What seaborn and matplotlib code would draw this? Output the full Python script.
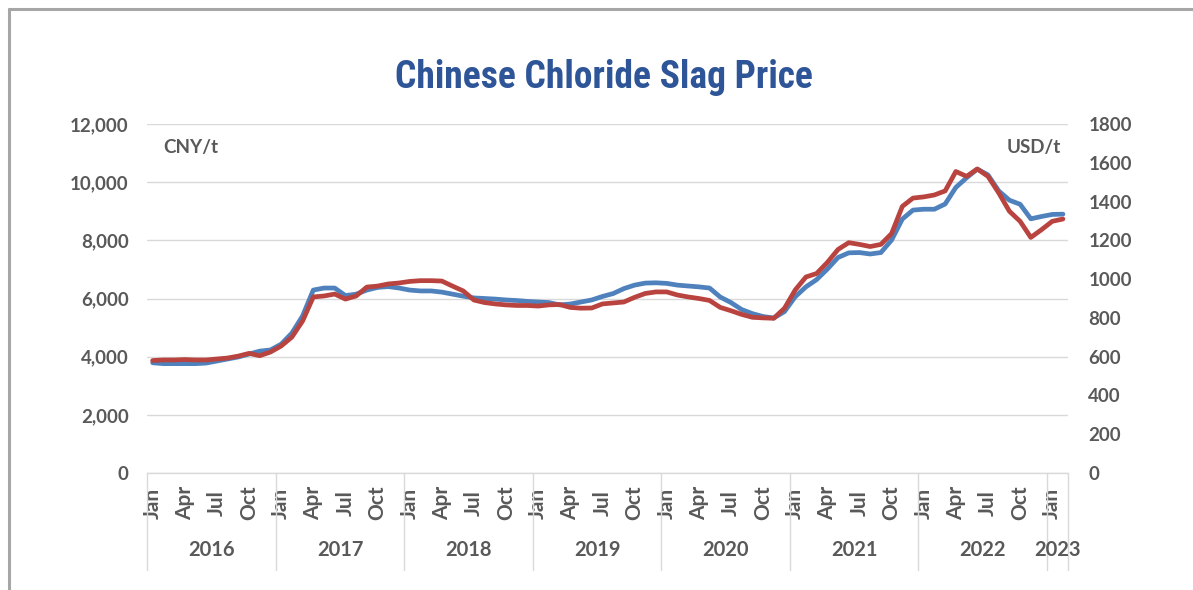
import numpy as np
import pandas as pd
import matplotlib
matplotlib.use("Agg")
import matplotlib.pyplot as plt
import seaborn as sns
from matplotlib.lines import Line2D
from matplotlib import font_manager as fm

# ---------------- data ----------------
years = ["2016", "2017", "2018", "2019", "2020", "2021", "2022", "2023"]
month_names = ["Jan", "Feb", "Mar", "Apr", "May", "Jun",
               "Jul", "Aug", "Sep", "Oct", "Nov", "Dec"]
shown_months = ["Jan", "Apr", "Jul", "Oct"]

# Chinese chloride slag price, CNY/t (left axis), Jan 2016 - Feb 2023
cny_t = [3790, 3760, 3760, 3760, 3760, 3780, 3850, 3920, 3990, 4090, 4190, 4230,
         4430, 4810, 5400, 6290, 6360, 6360, 6100, 6150, 6290, 6380, 6410, 6360,
         6290, 6260, 6260, 6220, 6150, 6080, 6020, 6000, 5980, 5950, 5930, 5900,
         5880, 5860, 5780, 5810, 5880, 5950, 6070, 6170, 6340, 6460, 6530, 6540,
         6520, 6460, 6430, 6400, 6360, 6050, 5860, 5620, 5480, 5380, 5330, 5550,
         6060, 6400, 6650, 7010, 7410, 7570, 7580, 7530, 7580, 8010, 8730, 9040,
         9070, 9070, 9250, 9820, 10150, 10450, 10250, 9700, 9380, 9240, 8740, 8820,
         8890, 8900]

# Chinese chloride slag price, USD/t (right axis)
usd_t = [580, 583, 583, 585, 583, 583, 588, 593, 603, 617, 605, 624,
         655, 701, 784, 908, 913, 923, 897, 913, 959, 964, 975, 980,
         988, 992, 992, 990, 964, 939, 892, 879, 872, 867, 864, 864,
         861, 867, 869, 854, 850, 851, 872, 877, 882, 906, 926, 934,
         934, 918, 908, 900, 890, 854, 837, 818, 803, 800, 798, 850,
         944, 1011, 1029, 1086, 1153, 1188, 1179, 1168, 1179, 1235, 1375, 1418,
         1424, 1434, 1455, 1555, 1530, 1568, 1530, 1445, 1350, 1298, 1215, 1255,
         1298, 1310]

cny_ticks = [0, 2000, 4000, 6000, 8000, 10000, 12000]
usd_ticks = [0, 200, 400, 600, 800, 1000, 1200, 1400, 1600, 1800]

n = len(cny_t)
df = pd.DataFrame({
    "idx": np.arange(n),
    "month": [month_names[i % 12] for i in range(n)],
    "cny": cny_t,
    "usd": usd_t,
})

# ---------------- style ----------------
sns.set_theme(style="white")
plt.rcParams["font.family"] = ["Lato", "DejaVu Sans"]

# find a condensed / narrow font for the title, if any is installed
title_font = None
title_stretch = "normal"
cands = []
for f in fm.fontManager.ttflist:
    nm = f.name
    low = nm.lower()
    if ("condensed" in low or "narrow" in low) and f.weight in (600, 700, "bold", "semibold"):
        cands.append(nm)
for pref in ["Roboto Condensed", "Liberation Sans Narrow", "DejaVu Sans Condensed",
             "Open Sans Condensed", "Noto Sans Condensed"]:
    if pref in cands:
        title_font = pref
        break
if title_font is None and cands:
    title_font = cands[0]
if title_font is None:
    for f in fm.fontManager.ttflist:
        if f.name == "DejaVu Sans" and str(f.stretch) in ("condensed", "semi-condensed"):
            title_font = "DejaVu Sans"
            title_stretch = "condensed"
            break
if title_font is None:
    title_font = "Roboto"
    title_size = 25
else:
    title_size = 27

BLUE = "#4F81BD"
RED = "#B9433F"
GRID = "#d9d9d9"
TXT = "#595959"

W, H = 1193, 590
fig = plt.figure(figsize=(W / 100, H / 100), dpi=100)
fig.patch.set_facecolor("white")

x0, x1 = 147.3, 1068.3
y_top, y_bot = 124, 473
ax = fig.add_axes([x0 / W, (H - y_bot) / H, (x1 - x0) / W, (y_bot - y_top) / H])
ax.set_facecolor("none")

sns.lineplot(data=df, x="idx", y="cny", ax=ax, color=BLUE, linewidth=3.4)
ax2 = ax.twinx()
sns.lineplot(data=df, x="idx", y="usd", ax=ax2, color=RED, linewidth=3.4)

ax.set_xlim(-0.5, n - 0.5)
ax.set_ylim(0, 12000)
ax2.set_ylim(0, 1800)

ax.set_yticks(cny_ticks)
ax.set_yticklabels([f"{v:,}" for v in cny_ticks])
ax2.set_yticks(usd_ticks)
ax2.set_yticklabels([str(v) for v in usd_ticks])

ax.grid(axis="y", color=GRID, linewidth=1)
ax.grid(axis="x", visible=False)
ax2.grid(False)
ax.set_axisbelow(True)

for a in (ax, ax2):
    for s in a.spines.values():
        s.set_visible(False)
    a.set_xlabel("")
    a.set_ylabel("")
ax.spines["bottom"].set_visible(True)
ax.spines["bottom"].set_color(GRID)
ax.spines["bottom"].set_linewidth(1)

ax.tick_params(axis="y", length=0, pad=13.5, labelsize=13.5, labelcolor=TXT)
ax2.tick_params(axis="y", length=0, pad=14.5, labelsize=13.5, labelcolor=TXT)
for t in ax.get_yticklabels() + ax2.get_yticklabels():
    t.set_fontweight("bold")

# month ticks
tick_idx = [i for i in range(n) if month_names[i % 12] in shown_months]
ax.set_xticks(tick_idx)
ax.set_xticklabels([month_names[i % 12] for i in tick_idx], rotation=90)
ax.tick_params(axis="x", length=0, pad=21.6, labelsize=15, labelcolor=TXT)
for t in ax.get_xticklabels():
    t.set_va("center")
    t.set_ha("center")
    t.set_fontweight("bold")

# year group labels and separators
xt = ax.get_xaxis_transform()
sep_bottom = -(570 - y_bot) / (y_bot - y_top)
year_y = -(549.5 - y_bot) / (y_bot - y_top)
bounds = [12 * k - 0.5 for k in range(len(years))] + [n - 0.5]
for b in bounds:
    ax.plot([b, b], [0, sep_bottom], transform=xt, color=GRID, lw=1, clip_on=False)
for k, yr in enumerate(years):
    s, e = bounds[k], bounds[k + 1]
    ax.text((s + e) / 2, year_y, yr, transform=xt, ha="center", va="center",
            fontsize=14.5, fontweight="bold", color=TXT)

# unit labels
ax.text((163 - x0) / (x1 - x0), (y_bot - 148) / (y_bot - y_top), "CNY/t",
        transform=ax.transAxes, ha="left", va="center", fontsize=13.5,
        fontweight="bold", color=TXT)
ax.text((1061 - x0) / (x1 - x0), (y_bot - 148) / (y_bot - y_top), "USD/t",
        transform=ax.transAxes, ha="right", va="center", fontsize=13.5,
        fontweight="bold", color=TXT)

# title
fig.text(604 / W, 1 - 77 / H, "Chinese Chloride Slag Price",
         ha="center", va="center", fontsize=title_size, fontweight="bold",
         fontstretch=title_stretch,
         color="#2E5597", family=[title_font, "DejaVu Sans"])

# outer frame (left and top edges visible)
fig.add_artist(Line2D([9 / W, 9 / W], [0, 1 - 9 / H], transform=fig.transFigure,
                      color="#a6a6a6", lw=2.2))
fig.add_artist(Line2D([9 / W, 1], [1 - 9 / H, 1 - 9 / H], transform=fig.transFigure,
                      color="#a6a6a6", lw=2.2))

fig.savefig("out.png", dpi=100)
